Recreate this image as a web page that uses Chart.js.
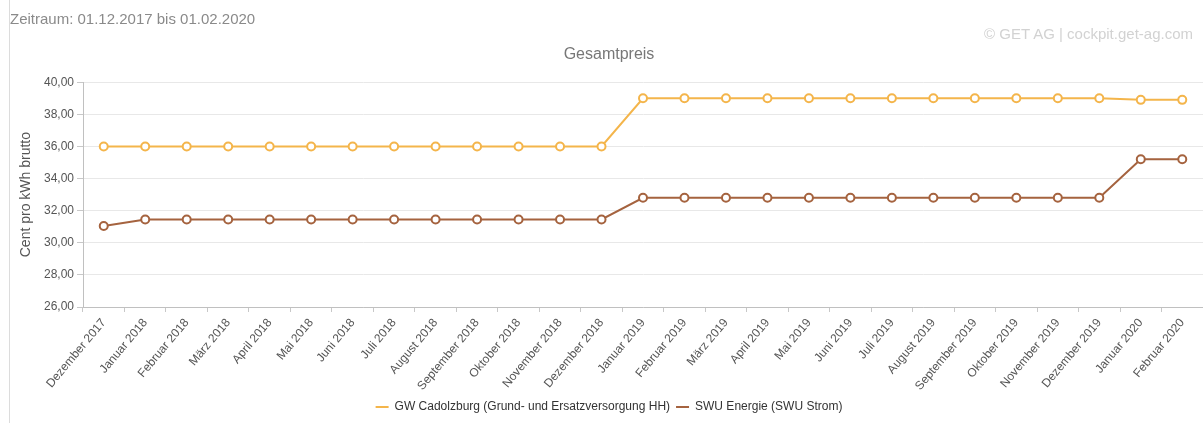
<!DOCTYPE html>
<html>
<head>
<meta charset="utf-8">
<script src="https://cdn.jsdelivr.net/npm/chart.js@4/dist/chart.umd.min.js"></script>
<style>
  body { margin: 0; background: #fff; font-family: "Liberation Sans", Arial, sans-serif; }
  #wrap { position: relative; width: 1203px; height: 423px; overflow: hidden; }
  #border { position: absolute; left: 9px; top: 0; width: 0; height: 423px; border-left: 1px solid #dcdcdc; }
  #range { position: absolute; left: 10px; top: 10px; font-size: 15px; line-height: 17px; color: #8a8a8a; }
  #copy { position: absolute; right: 10px; top: 25px; font-size: 15px; line-height: 17px; color: #d2d2d2; }
  canvas { position: absolute; left: 0; top: 0; }
</style>
</head>
<body>
<div id="wrap">
  <canvas id="chart" width="1203" height="423"></canvas>
  <div id="border"></div>
  <div id="range">Zeitraum: 01.12.2017 bis 01.02.2020</div>
  <div id="copy">© GET AG | cockpit.get-ag.com</div>
</div>
<script>
var labels = [
  "Dezember 2017",
  "Januar 2018", "Februar 2018", "März 2018", "April 2018", "Mai 2018", "Juni 2018",
  "Juli 2018", "August 2018", "September 2018", "Oktober 2018", "November 2018", "Dezember 2018",
  "Januar 2019", "Februar 2019", "März 2019", "April 2019", "Mai 2019", "Juni 2019",
  "Juli 2019", "August 2019", "September 2019", "Oktober 2019", "November 2019", "Dezember 2019",
  "Januar 2020", "Februar 2020"
];

var gwLabel = "GW Cadolzburg (Grund- und Ersatzversorgung HH)";
var gwData = [
  36.0,
  36.0, 36.0, 36.0, 36.0, 36.0, 36.0, 36.0, 36.0, 36.0, 36.0, 36.0, 36.0,
  39.0, 39.0, 39.0, 39.0, 39.0, 39.0, 39.0, 39.0, 39.0, 39.0, 39.0, 39.0,
  38.9, 38.9
];

var swuLabel = "SWU Energie (SWU Strom)";
var swuData = [
  31.05,
  31.45, 31.45, 31.45, 31.45, 31.45, 31.45, 31.45, 31.45, 31.45, 31.45, 31.45, 31.45,
  32.8, 32.8, 32.8, 32.8, 32.8, 32.8, 32.8, 32.8, 32.8, 32.8, 32.8, 32.8,
  35.2, 35.2
];

var yMin = 26;
var yMax = 40;
var yStep = 2;

var gwColor = "#f4b54b";
var swuColor = "#a5633f";
var fontFamily = "'Liberation Sans', Arial, sans-serif";

function dataset(label, data, color) {
  return {
    label: label,
    data: data,
    borderColor: color,
    backgroundColor: "#ffffff",
    borderWidth: 2,
    pointRadius: 4,
    pointHoverRadius: 4,
    pointBorderWidth: 2,
    pointBackgroundColor: "#ffffff",
    pointBorderColor: color,
    tension: 0,
  };
}

var config = {
  type: "line",
  data: {
    labels: labels,
    datasets: [dataset(gwLabel, gwData, gwColor), dataset(swuLabel, swuData, swuColor)],
  },
  options: {
    responsive: false,
    animation: false,
    layout: { autoPadding: false, padding: { left: 15, right: 0, top: 0, bottom: 0 } },
    scales: {
      x: {
        offset: true,
        grid: {
          offset: true,
          drawOnChartArea: false,
          drawTicks: true,
          tickLength: 5,
          color: "#c8c8c8",
        },
        border: { color: "#c0c0c0" },
        ticks: {
          minRotation: 50,
          maxRotation: 50,
          autoSkip: false,
          padding: 4,
          color: "#555",
          font: { family: fontFamily, size: 12 },
        },
        afterFit: function (scale) {
          scale.height = 88;
          scale.paddingRight = 0;
          scale.paddingLeft = 0;
        },
      },
      y: {
        min: yMin,
        max: yMax,
        ticks: {
          stepSize: yStep,
          color: "#555",
          padding: 3,
          font: { family: fontFamily, size: 12 },
          callback: function (value) {
            return value.toFixed(2).replace(".", ",");
          },
        },
        grid: {
          color: "#e8e8e8",
          tickLength: 6,
          tickColor: "#c8c8c8",
        },
        border: { color: "#c0c0c0" },
        title: {
          display: true,
          text: "Cent pro kWh brutto",
          color: "#555",
          font: { family: fontFamily, size: 14 },
          padding: { top: 3, bottom: 2 },
        },
        afterFit: function (scale) {
          scale.width = 68;
        },
      },
    },
    plugins: {
      title: {
        display: true,
        text: "Gesamtpreis",
        color: "#777",
        font: { family: fontFamily, size: 16, weight: "normal" },
        padding: { top: 45, bottom: 18 },
      },
      legend: {
        position: "bottom",
        labels: {
          boxWidth: 13,
          boxHeight: 2,
          padding: 6,
          color: "#333",
          font: { family: fontFamily, size: 12 },
          generateLabels: function (chart) {
            var items = Chart.defaults.plugins.legend.labels.generateLabels(chart);
            items.forEach(function (it) {
              it.fillStyle = it.strokeStyle;
              it.lineWidth = 0;
            });
            return items;
          },
        },
      },
      tooltip: { enabled: false },
    },
  },
};

new Chart(document.getElementById("chart"), config);
</script>
</body>
</html>
